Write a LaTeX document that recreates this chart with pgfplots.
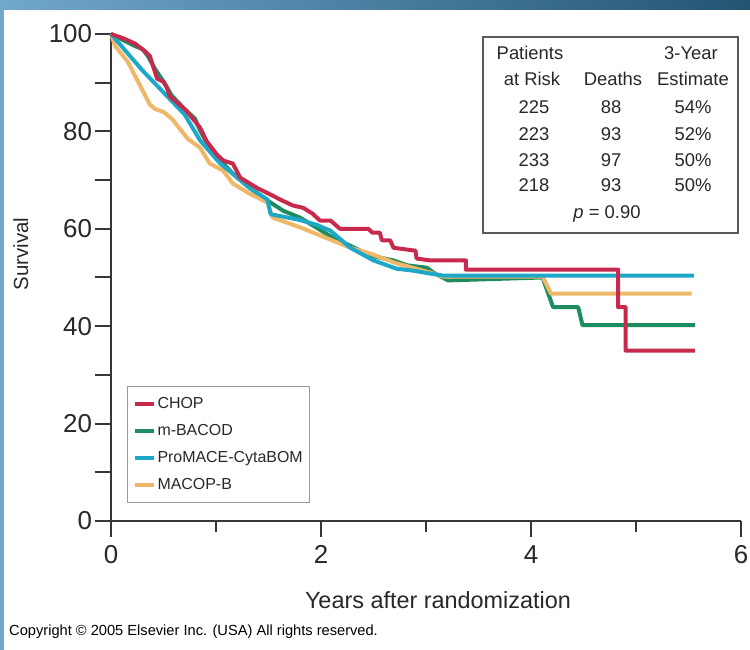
\documentclass[border=0pt]{standalone}
\usepackage{pgfplots}
\pgfplotsset{compat=1.18}
\usepackage{fontspec}
\setmainfont{Liberation Sans}
\definecolor{chop}{RGB}{200,42,78}
\definecolor{mbacod}{RGB}{30,140,95}
\definecolor{promace}{RGB}{30,168,200}
\definecolor{macop}{RGB}{238,184,104}
\definecolor{axisgray}{RGB}{55,55,55}
\definecolor{txt}{RGB}{40,40,40}
\definecolor{frameL}{RGB}{112,168,204}
\definecolor{frameR}{RGB}{35,85,115}
\begin{document}
\begin{tikzpicture}[x=1bp,y=1bp]
\useasboundingbox (0,0) rectangle (750,650);
\fill[white] (0,0) rectangle (750,650);
\fill[frameL] (0,0) rectangle (4,650);
\shade[left color=frameL, right color=frameR] (0,640) rectangle (750,650);
\begin{axis}[
  at={(111bp,129bp)}, anchor=south west, scale only axis,
  width=630bp, height=487bp,
  xmin=0, xmax=6, ymin=0, ymax=100,
  clip=false,
  axis lines=left,
  axis line style={-, line width=2bp, axisgray},
  xtick={0,2,4,6}, minor xtick={1,3,5},
  ytick={0,10,...,100}, yticklabels={0,,20,,40,,60,,80,,100},
  tick align=outside, major tick length=16bp, minor tick length=11bp,
  every tick/.style={line width=2bp, axisgray},
  tick label style={font=\fontsize{26}{28}\selectfont, text=txt},
  xticklabel style={yshift=-5bp},
  yticklabel style={xshift=0.5bp},
  /pgf/number format/assume math mode=true,
  xlabel={Years after randomization},
  ylabel={Survival},
  xlabel style={at={(rel axis cs:0.519,-0.162)}, anchor=center, font=\fontsize{23.5}{26}\selectfont, text=txt},
  ylabel style={at={(rel axis cs:-0.143,0.548)}, anchor=center, font=\fontsize{20.5}{24}\selectfont, text=txt},
  legend style={at={(rel axis cs:0.0254,0.037)}, anchor=south west, draw=gray!80, line width=1bp,
    font=\fontsize{16}{18}\selectfont, text=txt, row sep=10.3bp, inner xsep=5bp, inner ysep=9.5bp},
  legend cell align=left,
  legend image code/.code={\draw[#1, line width=4bp] (0bp,0bp) -- (19bp,0bp);},
  every axis plot/.append style={line width=4bp, line join=round},
]
\addlegendimage{chop}\addlegendentry{CHOP}
\addlegendimage{mbacod}\addlegendentry{m-BACOD}
\addlegendimage{promace}\addlegendentry{ProMACE-CytaBOM}
\addlegendimage{macop}\addlegendentry{MACOP-B}
% m-BACOD
\addplot[mbacod, forget plot] coordinates {
(0,100)(0.23,97.5)(0.30,96.9)(0.35,95.5)(0.42,92.8)(0.50,90.2)(0.58,87.3)(0.70,84.6)(0.80,82.6)(0.85,80.1)(0.94,76.6)(1.07,73.4)(1.16,71.3)(1.32,68.4)(1.49,65.8)(1.64,63.7)(1.80,62.3)(1.96,60.2)(2.11,58.2)(2.28,56.5)(2.47,54.5)(2.69,53.5)(2.82,52.5)(3.01,52.0)(3.07,51.0)(3.21,49.4)(4.11,50.0)(4.21,43.9)(4.45,43.9)(4.49,40.2)(5.56,40.2)};
% MACOP-B
\addplot[macop, forget plot] coordinates {
(0,100)(0.04,97.5)(0.16,94.3)(0.37,85.5)(0.42,84.6)(0.50,84.0)(0.58,82.6)(0.73,78.5)(0.85,76.6)(0.94,73.4)(1.07,71.9)(1.16,69.3)(1.32,67.2)(1.49,65.4)(1.54,62.3)(1.80,60.3)(2.11,57.6)(2.28,56.1)(2.47,54.9)(2.72,52.9)(3.04,51.0)(3.16,50.2)(4.11,50.2)(4.19,46.7)(5.53,46.7)};
% ProMACE-CytaBOM
\addplot[promace, forget plot] coordinates {
(0,100)(0.10,97.5)(0.30,92.5)(0.50,88.0)(0.70,83.5)(0.85,78.1)(1.04,73.4)(1.16,71.3)(1.32,68.4)(1.49,66.0)(1.52,63.0)(1.80,61.8)(1.96,60.8)(2.09,59.6)(2.28,56.1)(2.50,53.5)(2.72,51.8)(2.88,51.4)(3.04,50.8)(3.16,50.4)(5.55,50.4)};
% CHOP
\addplot[chop, forget plot] coordinates {
(0,100)(0.13,99)(0.23,98)(0.32,96.5)(0.37,95.5)(0.40,93.4)(0.44,90.8)(0.50,90.2)(0.53,89.1)(0.56,87.2)(0.61,86.3)(0.72,84.2)(0.85,80.7)(0.91,78)(1.01,75.2)(1.07,74)(1.16,73.4)(1.23,70.5)(1.39,68.4)(1.54,66.8)(1.63,65.8)(1.73,64.8)(1.83,64.3)(1.92,63.1)(1.99,61.7)(2.09,61.7)(2.18,60)(2.45,60)(2.49,59.2)(2.56,59.2)(2.58,57.6)(2.66,57.6)(2.69,56.1)(2.90,55.5)(2.91,53.9)(3.04,53.5)(3.38,53.5)(3.38,51.6)(4.83,51.6)(4.83,43.9)(4.90,43.9)(4.90,35)(5.56,35)};
\end{axis}
% risk table
\draw[gray!70!black, line width=1.2bp] (483,613) rectangle (738,417);
\begin{scope}[every node/.style={anchor=base, font=\fontsize{18.5}{20}\selectfont, text=txt, inner sep=0pt}]
\node at (530,590) {Patients};
\node at (691,590) {3-Year};
\node at (532,564) {at Risk};
\node at (613,564) {Deaths};
\node at (693,564) {Estimate};
\node at (534,536) {225}; \node at (611,536) {88}; \node at (693,536) {54\%};
\node at (534,509) {223}; \node at (611,509) {93}; \node at (693,509) {52\%};
\node at (534,483) {233}; \node at (611,483) {97}; \node at (693,483) {50\%};
\node at (534,458) {218}; \node at (611,458) {93}; \node at (693,458) {50\%};
\node at (607,431) {\textit{p} = 0.90};
\end{scope}
\node[anchor=base west, inner sep=0pt, font=\fontsize{14.7}{16}\selectfont, text=black] at (9,14) {Copyright © 2005 Elsevier Inc. (USA) All rights reserved.};
\end{tikzpicture}
\end{document}
